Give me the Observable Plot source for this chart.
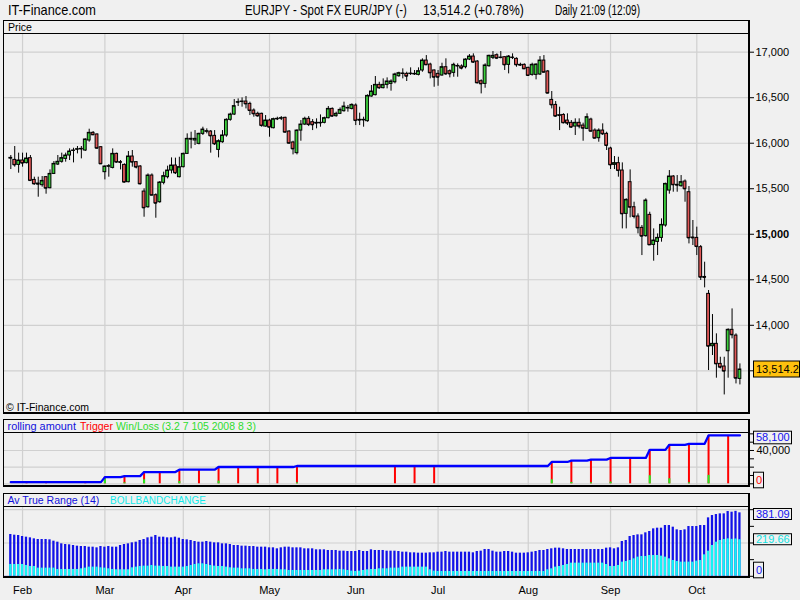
<!DOCTYPE html>
<html><head><meta charset="utf-8">
<script src="https://cdn.jsdelivr.net/npm/d3@7"></script>
<script src="https://cdn.jsdelivr.net/npm/@observablehq/plot@0.6"></script>
<style>
html,body{margin:0;padding:0;background:#f0f0f0;}
#root{position:relative;width:800px;height:600px;overflow:hidden;background:#f0f0f0;}
.pl{position:absolute;left:0;}
</style></head>
<body><div id="root"></div>
<script>
// ---------- data ----------
const monthIdx = [3,24,44,66,88,109,132,153,175];
const monthLab = ["Feb","Mar","Apr","May","Jun","Jul","Aug","Sep","Oct"];
const priceTicks = [13500,14000,14500,15000,15500,16000,16500,17000];

const open = [15832,15817,15762,15810,15781,15836,15597,15557,15539,15627,
15506,15663,15766,15796,15828,15865,15916,15931,15934,15920,
16030,16114,16096,15956,15682,15744,15729,15883,15792,15762,
15572,15854,15792,15744,15469,15297,15645,15429,15352,15565,
15627,15700,15755,15627,15737,15883,16048,16030,15993,16103,
16128,16128,16081,15927,16011,16085,16257,16315,16447,16454,
16458,16432,16359,16323,16323,16183,16249,16165,16264,16271,
16279,16128,16008,15891,16139,16205,16268,16231,16224,16220,
16224,16275,16377,16297,16323,16352,16385,16377,16414,16257,
16253,16242,16513,16528,16641,16605,16641,16652,16670,16736,
16762,16762,16762,16758,16751,16799,16908,16864,16799,16762,
16744,16835,16791,16773,16846,16843,16835,16919,16952,16897,
16681,16652,16846,16938,16967,16938,16945,16861,16938,16927,
16861,16861,16828,16751,16751,16755,16908,16788,16476,16421,
16308,16311,16249,16224,16183,16224,16194,16158,16260,16139,
16055,16139,16103,15942,15762,15781,15700,15224,15572,15297,
15195,15070,14979,15213,14883,14916,14960,15096,15480,15634,
15543,15528,15579,15462,14964,14960,14858,14531,14345,13770,
13796,13576,13547,13715,13950,13887,13411];
const high = [15865,15964,15891,15891,15891,15865,15627,15627,15634,15634,
15707,15799,15865,15891,15891,15938,15945,15964,15964,16048,
16154,16128,16103,15964,15751,15766,15938,15891,15810,15773,
15909,15920,15799,15755,15499,15663,15663,15444,15579,15682,
15748,15839,15836,15846,15891,16103,16121,16139,16110,16176,
16158,16139,16139,16037,16139,16268,16330,16480,16487,16498,
16513,16451,16377,16341,16330,16304,16264,16275,16286,16293,
16286,16139,16022,16147,16249,16286,16293,16260,16268,16311,
16286,16403,16388,16341,16388,16451,16414,16432,16432,16330,
16286,16531,16634,16733,16670,16707,16718,16696,16769,16780,
16817,16780,16828,16799,16828,16927,16963,16879,16806,16799,
16879,16927,16806,16879,16872,16861,16927,16974,16982,16908,
16696,16872,16967,17007,16982,17007,16952,16963,16982,16938,
16879,16872,16835,16879,16872,16952,16963,16799,16568,16458,
16396,16323,16323,16249,16268,16268,16220,16323,16275,16158,
16158,16213,16121,15956,15854,15846,15784,15389,15707,15352,
15224,15096,15389,15242,15059,15004,15169,15561,15700,15645,
15645,15645,15597,15524,15151,15078,14876,14693,14382,14118,
13906,13649,13649,13961,14180,13906,13576];
const low = [15711,15737,15671,15737,15773,15583,15539,15407,15517,15440,
15499,15656,15755,15781,15792,15810,15784,15883,15828,15909,
16011,16085,15934,15766,15597,15627,15718,15781,15707,15565,
15565,15737,15718,15543,15187,15286,15422,15176,15341,15543,
15608,15663,15656,15619,15729,15876,15938,15975,15982,16085,
16103,15891,15975,15839,16000,16066,16242,16304,16403,16396,
16377,16304,16286,16286,16176,16176,16066,16158,16249,16249,
16114,15993,15872,15872,16022,16194,16183,16139,16158,16176,
16213,16268,16286,16286,16315,16341,16341,16366,16194,16194,
16176,16231,16506,16520,16593,16597,16597,16572,16652,16725,
16707,16678,16744,16744,16740,16780,16854,16707,16615,16626,
16736,16744,16718,16725,16725,16806,16817,16908,16879,16652,
16542,16604,16835,16919,16919,16927,16799,16762,16919,16835,
16846,16810,16733,16736,16696,16744,16769,16542,16377,16286,
16139,16213,16194,16165,16085,16158,16022,16150,16121,16048,
16011,16085,15920,15711,15711,15627,15059,15059,15180,15169,
15004,14766,14968,14876,14704,14766,14913,15078,15440,15462,
15462,15517,15352,14894,14876,14766,14492,14411,13503,13668,
13419,13521,13235,13419,13851,13356,13345];
const close = [15839,15762,15810,15781,15832,15590,15553,15550,15586,15506,
15663,15773,15796,15836,15865,15909,15920,15934,15938,16041,
16114,16092,15945,15773,15744,15748,15883,15792,15788,15572,
15854,15792,15737,15553,15290,15645,15429,15341,15568,15638,
15700,15755,15674,15737,15883,16048,16044,16048,16103,16150,
16132,16081,15993,16022,16085,16257,16315,16407,16451,16458,
16432,16359,16323,16300,16194,16249,16176,16264,16268,16275,
16121,16000,15938,16139,16205,16268,16205,16202,16220,16224,
16275,16377,16297,16323,16366,16403,16388,16421,16249,16253,
16257,16520,16568,16641,16608,16641,16678,16678,16755,16769,
16766,16736,16765,16762,16791,16908,16861,16773,16725,16725,
16835,16762,16762,16861,16849,16824,16919,16952,16890,16663,
16652,16854,16960,16960,16934,16941,16861,16952,16941,16861,
16857,16817,16744,16861,16864,16908,16780,16550,16421,16297,
16304,16224,16220,16176,16224,16187,16165,16286,16132,16055,
16139,16103,15975,15762,15781,15700,15224,15378,15297,15195,
15070,14979,15370,14883,14931,14960,15103,15553,15634,15543,
15539,15572,15499,14960,14960,14865,14528,14524,13770,13796,
13576,13539,13496,13950,13895,13419,13514.2];

// rolling amount / trigger / win-loss
const rollIdx = [0,23,24,28,29,33,34,42,43,52,53,72,73,137,138,142,143,147,148,152,153,162,163,167,168,172,173,177,178,186];
const rollAmt = [1980,1980,8040,8040,9250,9250,14100,14100,16930,16930,20160,20160,21370,21370,26220,26220,27840,27840,29050,29050,31070,31070,40770,40770,46830,46830,48040,48040,58100,58100];
const trigIdx = [4,9,19,24,29,34,38,43,48,53,58,63,68,73,98,103,108,138,143,148,153,158,163,168,173,178,183];
const trigAmt = [1980,1980,1980,8040,9250,14100,14100,16930,16930,20160,20160,20160,20160,21370,21370,21370,21370,26220,27840,29050,31070,31070,40770,46830,48040,58100,58100];
const winAmt  = [0,0,0,6060,1210,4850,0,2830,0,3230,0,300,0,1210,0,0,0,4850,1620,1210,2020,0,9700,6060,1210,10060,0];
const rollTicks = [0,10000,20000,30000,40000,50000,60000];
const rollGrid = [0,20000,40000];

// Average true range (14) and BOLLBANDCHANGE
const atr = [251,247,245,239,235,231,225,221,221,221,
219,211,205,195,191,189,185,181,179,179,
175,175,171,179,175,179,175,175,185,191,
195,201,205,215,221,231,235,245,235,235,
231,231,235,229,221,219,215,209,205,205,
209,205,201,201,195,195,191,185,185,181,
181,179,179,175,175,175,171,171,165,171,
175,175,171,171,171,165,165,165,159,159,
159,155,155,155,151,151,149,149,149,155,
149,149,159,155,155,155,151,151,151,149,
145,145,141,141,139,139,139,141,141,145,
145,149,145,145,145,145,145,145,141,149,
151,161,161,151,145,145,149,149,145,139,
139,139,141,145,149,155,155,161,165,169,
169,165,161,161,161,161,161,161,161,161,
161,161,169,171,165,171,209,215,239,245,
249,249,261,269,285,289,289,305,305,295,
279,275,279,299,299,299,305,305,351,365,
371,375,375,389,385,390,381.09];
const bbc = [71,71,71,71,65,59,59,49,49,49,
49,49,41,41,41,41,41,41,45,49,
55,55,55,51,49,45,41,39,39,39,
39,51,55,59,61,61,65,61,61,59,
59,55,55,55,55,59,65,71,75,75,
71,65,61,59,59,55,51,49,49,45,
45,45,41,41,41,39,41,41,41,39,
39,35,35,35,35,35,35,35,35,35,
39,39,39,39,41,39,35,31,29,31,
35,39,41,41,45,45,45,49,49,49,
55,55,55,55,55,55,55,39,31,29,
29,29,29,29,29,29,29,29,29,29,
29,29,29,29,29,29,29,29,29,29,
29,29,29,29,29,29,29,39,45,55,
59,65,71,79,79,79,79,79,79,79,
79,79,71,59,59,65,85,89,95,105,
115,119,119,125,125,125,121,115,105,95,
89,85,85,85,85,91,95,129,151,185,
205,215,221,225,222,224,219.66];
const atrTicks = [0,100,200,300,400];
const atrGrid = [200,400];

// ---------- layout ----------
const FONT = "Liberation Sans, Arial, Helvetica, sans-serif";
const XD = [-1.862, 188.19];
const GRID = {stroke:"#d0d0d0", strokeWidth:1.2};
const base = {width:800, marginLeft:3, marginRight:52, marginTop:0, marginBottom:0,
  style:{background:"transparent", fontFamily:FONT, fontSize:"11px", color:"#000", overflow:"visible"}};
const root = document.getElementById("root");
function place(svg, top){ const d=document.createElement("div"); d.className="pl"; d.style.top=top+"px"; d.appendChild(svg); root.appendChild(d); return svg; }

const bars = open.map((o,i)=>({i, o, h:high[i], l:low[i], c:close[i]}));
const fmt = d3.format(",");
const last = close.length-1;
const P1TOP = 34;
const p1 = place(Plot.plot({...base, height:378,
  x:{domain:XD, axis:null},
  y:{domain:[13041.9,17194.4], axis:"right", ticks:priceTicks, tickSize:5, tickPadding:2, label:null,
     tickFormat:d=> (d===15000 || Math.abs(d-close[last])<200) ? "" : fmt(d)},
  color:{type:"identity"},
  marks:[
    Plot.ruleX(monthIdx, GRID),
    Plot.ruleY(priceTicks, GRID),
    Plot.ruleX(bars, {x:"i", y1:"l", y2:"h", stroke:"#000", strokeWidth:1}),
    Plot.rect(bars, {x1:d=>d.i-0.36, x2:d=>d.i+0.36, y1:"o", y2:"c",
      fill:d=> d.c>=d.o ? "#3ccf3c" : "#e05858", stroke:"#000", strokeWidth:1}),
    Plot.ruleY(bars, {y:"c", x1:d=>d.i-0.36, x2:d=>d.i+0.36, stroke:"#000", strokeWidth:1}),
    Plot.text([15000], {x:XD[1], y:d=>d, text:d=>fmt(d), dx:7, textAnchor:"start", fontWeight:"bold", fontSize:11})
  ]}), P1TOP);

const trig = trigIdx.map((x,k)=>({i:x, amt:trigAmt[k], win:winAmt[k]}));
const roll = rollIdx.map((x,k)=>({i:x, amt:rollAmt[k]}));
const P2TOP = 433;
const p2 = place(Plot.plot({...base, height:52,
  x:{domain:XD, axis:null},
  y:{domain:[-2042,60420], axis:"right", ticks:rollTicks, tickSize:5, tickPadding:3, label:null,
     tickFormat:d=> d===40000 ? fmt(d) : ""},
  marks:[
    Plot.ruleX(monthIdx, GRID),
    Plot.ruleY(rollGrid, GRID),
    Plot.ruleX(trig, {x:"i", y1:0, y2:"amt", stroke:"#ff0000", strokeWidth:2}),
    Plot.ruleX(trig.filter(d=>d.win>0), {x:"i", y1:0, y2:"win", stroke:"#22ee22", strokeWidth:2}),
    Plot.line(roll, {x:"i", y:"amt", stroke:"#0000ff", strokeWidth:2.3})
  ]}), P2TOP);

const ad = atr.map((v,i)=>({i, atr:v, bbc:bbc[i]}));
const P3TOP = 507;
const p3 = place(Plot.plot({...base, height:93, marginBottom:24,
  x:{domain:XD, axis:"bottom", ticks:monthIdx, tickSize:0, tickPadding:10, label:null,
     tickFormat:d=> monthLab[monthIdx.indexOf(d)]},
  y:{domain:[-1.2,413.2], axis:"right", ticks:atrTicks, tickSize:5, tickFormat:()=>"", label:null},
  marks:[
    Plot.ruleX(monthIdx, GRID),
    Plot.ruleY(atrGrid, GRID),
    Plot.rect(ad, {x1:d=>d.i-0.29, x2:d=>d.i+0.29, y1:0, y2:"atr", fill:"#1212e8"}),
    Plot.rect(ad, {x1:d=>d.i-0.29, x2:d=>d.i+0.29, y1:0, y2:"bbc", fill:"#14f4f4"}),
    Plot.ruleY([0], {stroke:"#5a4fd0", strokeWidth:1})
  ]}), P3TOP);

// ---------- overlay: frames, titles, value boxes ----------
const ov = d3.select(root).append("svg").attr("width",800).attr("height",600)
  .style("position","absolute").style("left","0px").style("top","0px")
  .style("font-family",FONT);
function ln(x1,y1,x2,y2,w){ ov.append("line").attr("x1",x1).attr("y1",y1).attr("x2",x2).attr("y2",y2).attr("stroke","#000").attr("stroke-width",w); }
function frame(top,lab,bot){
  ln(3,top+0.5,750,top+0.5,1); ln(3.5,top,3.5,bot,1);
  ln(749,top,749,bot,2); ln(3,bot-1,750,bot-1,2); ln(3,lab+0.5,749,lab+0.5,1);
}
frame(20,33,414); frame(419,432,487); frame(493,506,578);
// text fitted horizontally to the width it has in the reference
function tx(x,y,s,o={}){
  const g=ov.append("g").attr("transform",`translate(${x},${y})`);
  const t=g.append("text").text(s).attr("font-size",o.size||11)
    .attr("fill",o.fill||"#000").attr("font-weight",o.weight||"normal");
  if(o.dy) t.attr("dy",o.dy);
  if(o.len){ const w=t.node().getComputedTextLength(); if(w>0) g.attr("transform",`translate(${x},${y}) scale(${o.len/w},1)`); }
  return t;
}
tx(8,14.5,"IT-Finance.com",{size:14,len:88});
tx(245,14.5,"EURJPY - Spot FX EUR/JPY (-)",{size:14,len:162});
tx(423,14.5,"13,514.2 (+0.78%)",{size:14,len:101});
tx(555,14.5,"Daily  21:09 (12:09)",{size:14,len:85});
tx(8,30.5,"Price",{len:24});
tx(6,410.5,"\u00A9 IT-Finance.com",{len:83});
tx(7.5,430,"rolling amount",{fill:"#1111dd",len:68.5});
tx(80,430,"Trigger",{fill:"#ff0000",len:33});
tx(116,430,"Win/Loss (3.2 7 105 2008 8 3)",{fill:"#2edc2e",len:140});
tx(7.5,504,"Av True Range (14)",{fill:"#1111dd",len:92});
tx(110,504,"BOLLBANDCHANGE",{fill:"#10eaea",len:96});

function vbox(top, cy, h, w, s, fill, bg, minTop, maxBot){
  let y0 = top + cy - h/2;
  if(minTop!==undefined) y0 = Math.max(y0, minTop);
  if(maxBot!==undefined) y0 = Math.min(y0, maxBot - h);
  ov.append("rect").attr("x",753.5).attr("y",y0+0.5).attr("width",w).attr("height",h-1)
    .attr("fill",bg).attr("stroke","#000").attr("stroke-width",1);
  tx(756, y0+h/2, s, {fill, dy:"0.36em"});
}
vbox(P1TOP, p1.scale("y").apply(close[last]), 17, 46, d3.format(",.1f")(close[last]), "#000", "#ffc10e");
vbox(P2TOP, p2.scale("y").apply(rollAmt[rollAmt.length-1]), 13.6, 38, fmt(rollAmt[rollAmt.length-1]), "#1111ee", "#f0f0f0", 430.7);
vbox(P2TOP, p2.scale("y").apply(0), 16.6, 10, "0", "#ff0000", "#f0f0f0", undefined, 488.3);
vbox(P3TOP, p3.scale("y").apply(atr[last]), 12, 38, d3.format(".2f")(atr[last]), "#1111ee", "#f0f0f0", 508);
vbox(P3TOP, p3.scale("y").apply(bbc[last]), 12, 38, d3.format(".2f")(bbc[last]), "#10e0e0", "#f0f0f0");
vbox(P3TOP, p3.scale("y").apply(0), 16.6, 10, "0", "#1111ee", "#f0f0f0", undefined, 578.3);
</script></body></html>
